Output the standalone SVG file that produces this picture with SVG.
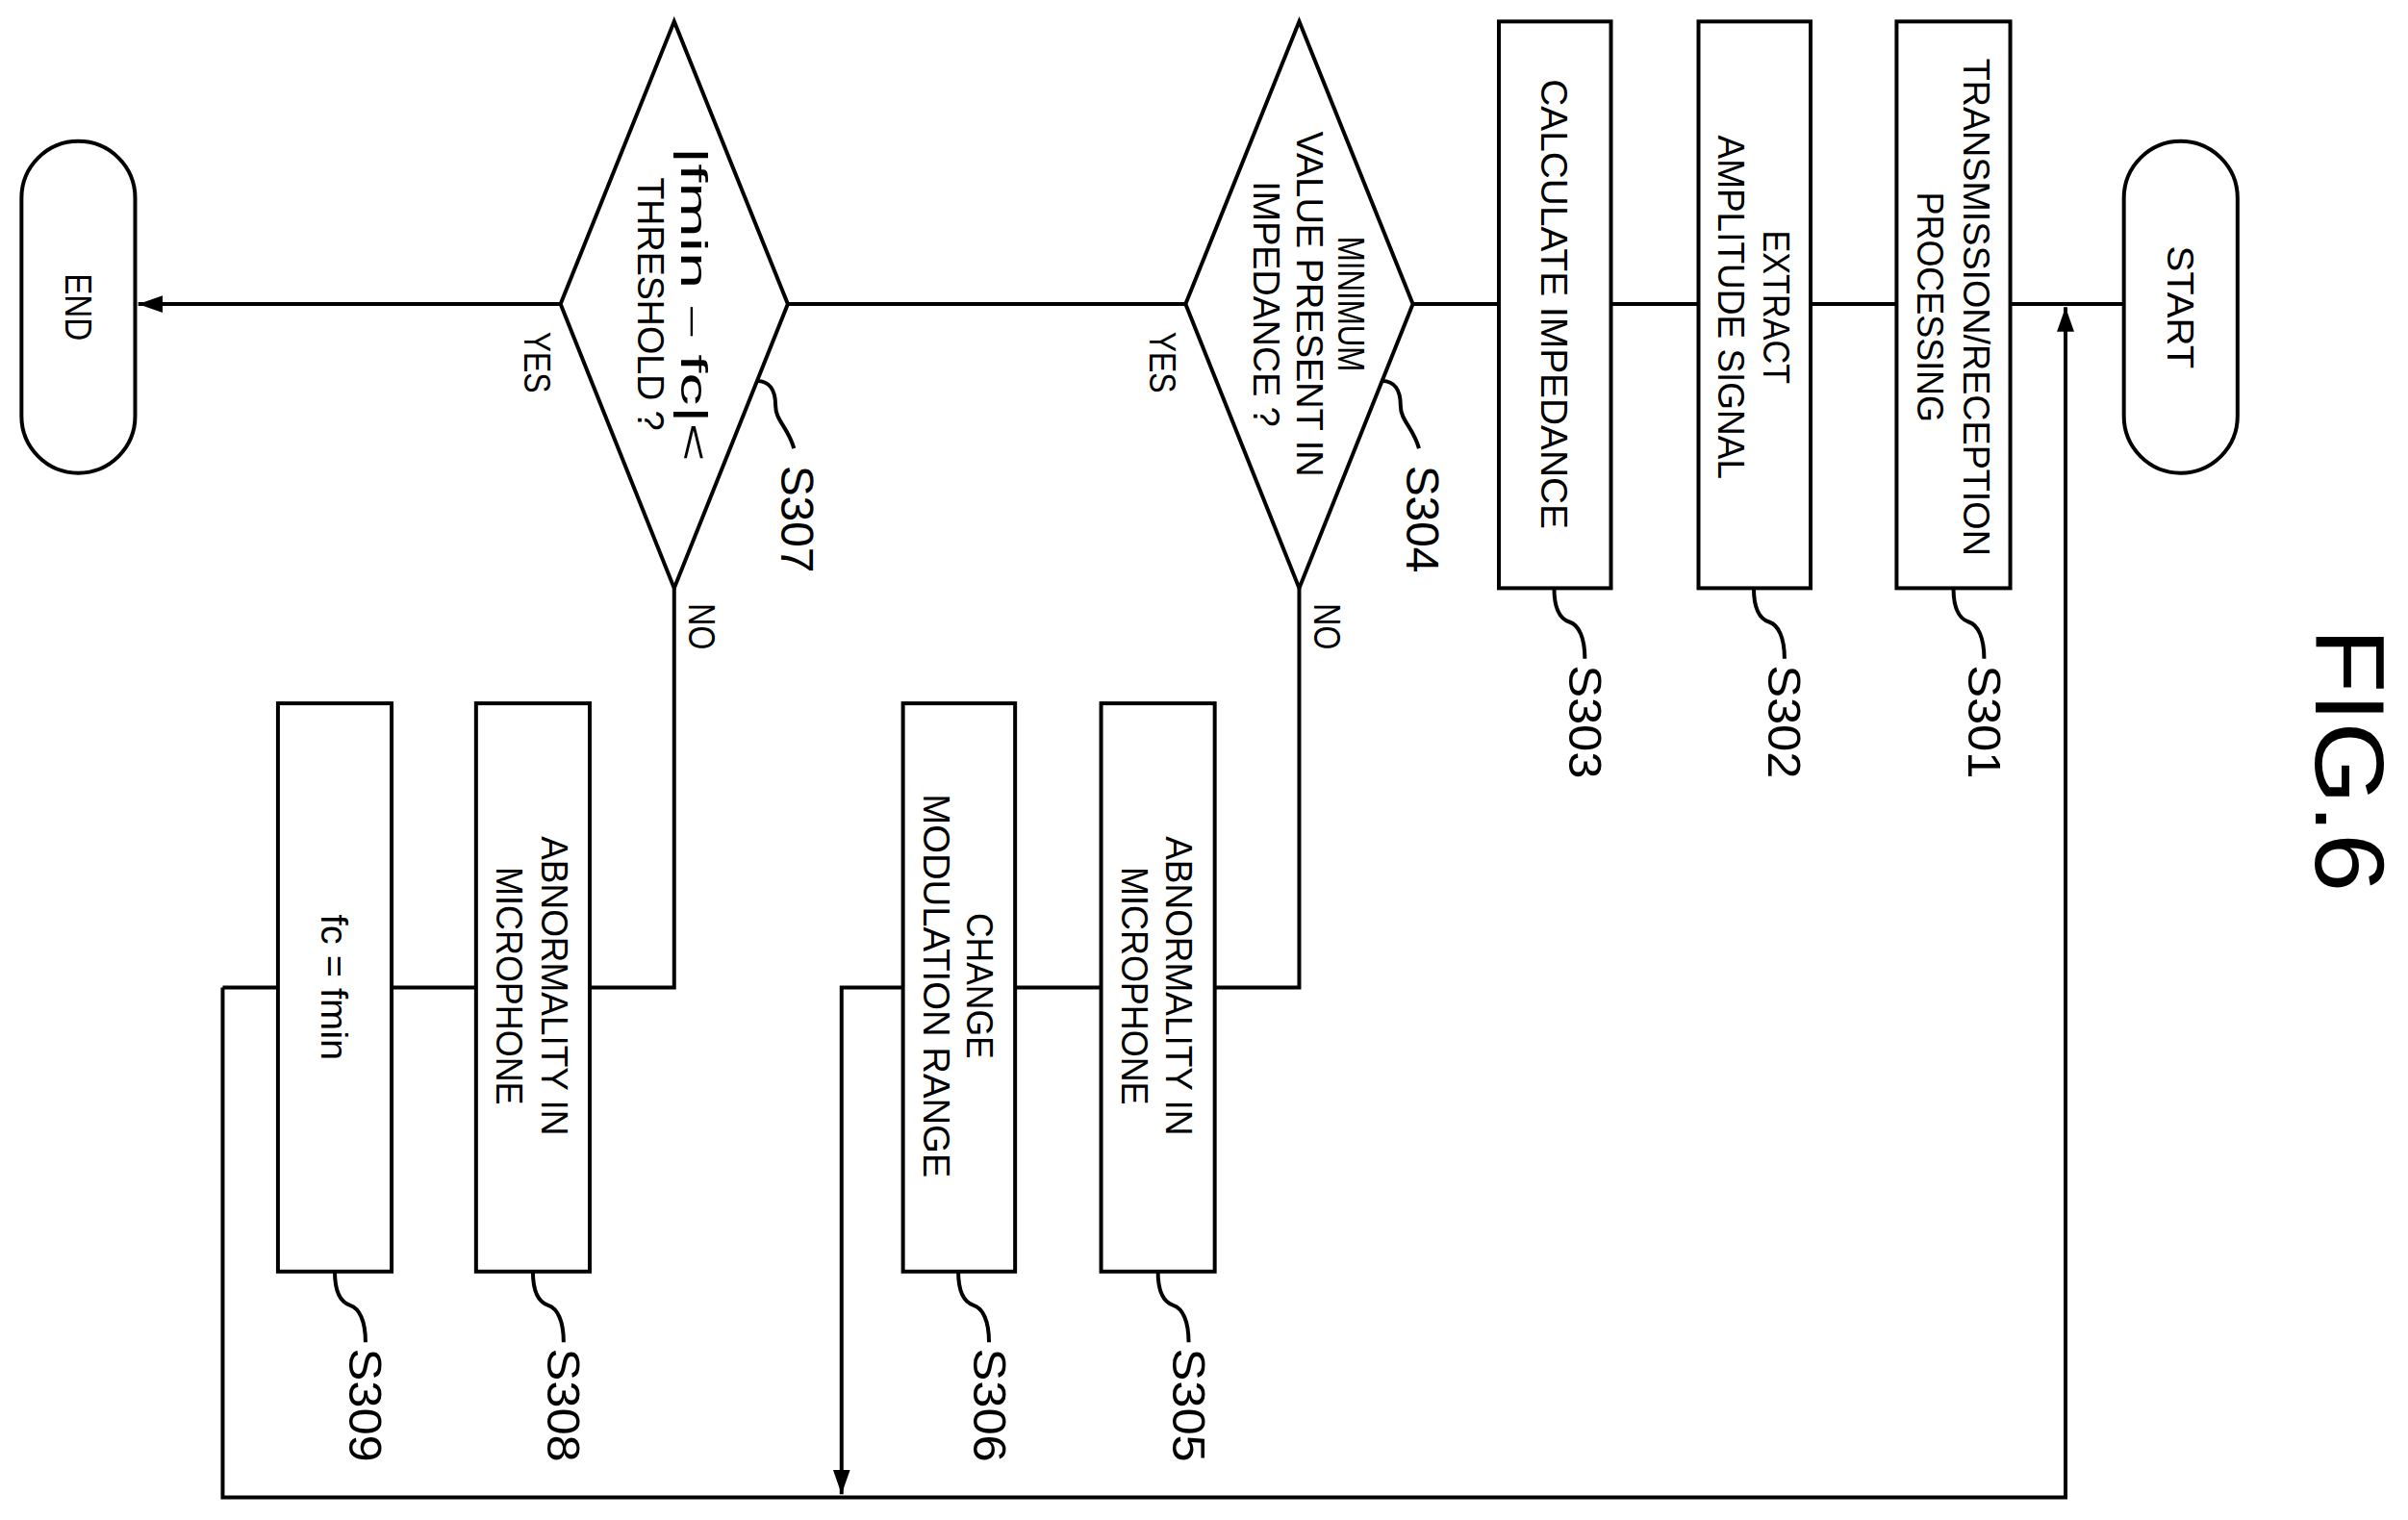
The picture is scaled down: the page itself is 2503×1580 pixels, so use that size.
<svg xmlns="http://www.w3.org/2000/svg" width="2503" height="1580" viewBox="0 0 2503 1580">
<style>
.s{fill:#fff;stroke:#000;stroke-width:2.5}
.l{fill:none;stroke:#000;stroke-width:2.5}
.t{font-family:"Liberation Sans",Arial,sans-serif;font-size:24px;fill:#000}
.lb{font-family:"Liberation Sans",Arial,sans-serif;font-size:30px;fill:#000}
</style>
<defs>
<marker id="a" viewBox="0 0 10 10" refX="10" refY="5" markerWidth="9" markerHeight="9" markerUnits="userSpaceOnUse" orient="auto"><path d="M0,0L10,5L0,10z" fill="#000"/></marker>
<marker id="b" viewBox="0 0 10 10" refX="10" refY="5" markerWidth="16" markerHeight="16" markerUnits="userSpaceOnUse" orient="auto"><path d="M0,1.5L10,5L0,8.5z" fill="#000"/></marker>
</defs>
<rect width="2503" height="1580" fill="#fff"/>
<g transform="scale(1.5963)">
<g id="connectors">
<path class="l" d="M1383,198H90" marker-end="url(#b)"/>
<path class="l" d="M145,643V975H1345V200" marker-end="url(#b)"/>
<path class="l" d="M846,383V643H548V973" marker-end="url(#b)"/>
<path class="l" d="M439,383V643H145"/>
</g>
<g id="start"><rect class="s" x="1383" y="92" width="74" height="216" rx="37"/><text class="t" transform="translate(1420,200) rotate(90)" text-anchor="middle" dominant-baseline="central" textLength="80" lengthAdjust="spacingAndGlyphs">START</text></g>
<g id="s301"><rect class="s" x="1235" y="14" width="74" height="369"/>
<text class="t" transform="translate(1287,200) rotate(90)" text-anchor="middle" dominant-baseline="central" textLength="324" lengthAdjust="spacingAndGlyphs">TRANSMISSION/RECEPTION</text>
<text class="t" transform="translate(1257,200) rotate(90)" text-anchor="middle" dominant-baseline="central" textLength="150" lengthAdjust="spacingAndGlyphs">PROCESSING</text>
<path class="l" d="M1272,383c0,14 4,20 10,22s10,10 10,24"/><text class="lb" transform="translate(1292,470) rotate(90)" text-anchor="middle" dominant-baseline="central" textLength="74" lengthAdjust="spacingAndGlyphs">S301</text></g>
<g id="s302"><rect class="s" x="1106" y="14" width="73" height="369"/>
<text class="t" transform="translate(1157,200) rotate(90)" text-anchor="middle" dominant-baseline="central" textLength="100" lengthAdjust="spacingAndGlyphs">EXTRACT</text>
<text class="t" transform="translate(1127,200) rotate(90)" text-anchor="middle" dominant-baseline="central" textLength="224" lengthAdjust="spacingAndGlyphs">AMPLITUDE SIGNAL</text>
<path class="l" d="M1142,383c0,14 4,20 10,22s10,10 10,24"/><text class="lb" transform="translate(1162,470) rotate(90)" text-anchor="middle" dominant-baseline="central" textLength="74" lengthAdjust="spacingAndGlyphs">S302</text></g>
<g id="s303"><rect class="s" x="976" y="14" width="73" height="369"/>
<text class="t" transform="translate(1012,198) rotate(90)" text-anchor="middle" dominant-baseline="central" textLength="293" lengthAdjust="spacingAndGlyphs">CALCULATE IMPEDANCE</text>
<path class="l" d="M1012,383c0,14 4,20 10,22s10,10 10,24"/><text class="lb" transform="translate(1032,470) rotate(90)" text-anchor="middle" dominant-baseline="central" textLength="74" lengthAdjust="spacingAndGlyphs">S303</text></g>
<g id="s304"><path class="s" d="M846,14L920,198L846,383L772,198z"/>
<text class="t" transform="translate(880,198) rotate(90)" text-anchor="middle" dominant-baseline="central" textLength="88" lengthAdjust="spacingAndGlyphs">MINIMUM</text>
<text class="t" transform="translate(853,198) rotate(90)" text-anchor="middle" dominant-baseline="central" textLength="225" lengthAdjust="spacingAndGlyphs">VALUE PRESENT IN</text>
<text class="t" transform="translate(825,198) rotate(90)" text-anchor="middle" dominant-baseline="central" textLength="160" lengthAdjust="spacingAndGlyphs">IMPEDANCE ?</text>
<path class="l" d="M900,248c8,0 12,6 12,16s8,14 12,28"/><text class="lb" transform="translate(926,338) rotate(90)" text-anchor="middle" dominant-baseline="central" textLength="70" lengthAdjust="spacingAndGlyphs">S304</text>
<text class="t" transform="translate(757,236) rotate(90)" text-anchor="middle" dominant-baseline="central" textLength="40" lengthAdjust="spacingAndGlyphs">YES</text>
<text class="t" transform="translate(864,408) rotate(90)" text-anchor="middle" dominant-baseline="central" textLength="30" lengthAdjust="spacingAndGlyphs">NO</text></g>
<g id="s305"><rect class="s" x="717" y="458" width="74" height="370"/>
<text class="t" transform="translate(768,642) rotate(90)" text-anchor="middle" dominant-baseline="central" textLength="195" lengthAdjust="spacingAndGlyphs">ABNORMALITY IN</text>
<text class="t" transform="translate(739,642) rotate(90)" text-anchor="middle" dominant-baseline="central" textLength="155" lengthAdjust="spacingAndGlyphs">MICROPHONE</text>
<path class="l" d="M754,828c0,14 4,20 10,22s10,10 10,24"/><text class="lb" transform="translate(774,915) rotate(90)" text-anchor="middle" dominant-baseline="central" textLength="74" lengthAdjust="spacingAndGlyphs">S305</text></g>
<g id="s306"><rect class="s" x="588" y="458" width="73" height="370"/>
<text class="t" transform="translate(638,642) rotate(90)" text-anchor="middle" dominant-baseline="central" textLength="95" lengthAdjust="spacingAndGlyphs">CHANGE</text>
<text class="t" transform="translate(610,642) rotate(90)" text-anchor="middle" dominant-baseline="central" textLength="250" lengthAdjust="spacingAndGlyphs">MODULATION RANGE</text>
<path class="l" d="M624,828c0,14 4,20 10,22s10,10 10,24"/><text class="lb" transform="translate(644,915) rotate(90)" text-anchor="middle" dominant-baseline="central" textLength="74" lengthAdjust="spacingAndGlyphs">S306</text></g>
<g id="s307"><path class="s" d="M439,14L513,198L439,383L365,198z"/>
<text class="t" transform="translate(452,198) rotate(90)" text-anchor="middle" dominant-baseline="central" textLength="205" lengthAdjust="spacingAndGlyphs">|fmin－fc|&lt;</text>
<text class="t" transform="translate(424,198) rotate(90)" text-anchor="middle" dominant-baseline="central" textLength="165" lengthAdjust="spacingAndGlyphs">THRESHOLD ?</text>
<path class="l" d="M493,248c8,0 12,6 12,16s8,14 12,28"/><text class="lb" transform="translate(519,338) rotate(90)" text-anchor="middle" dominant-baseline="central" textLength="70" lengthAdjust="spacingAndGlyphs">S307</text>
<text class="t" transform="translate(350,236) rotate(90)" text-anchor="middle" dominant-baseline="central" textLength="40" lengthAdjust="spacingAndGlyphs">YES</text>
<text class="t" transform="translate(457,408) rotate(90)" text-anchor="middle" dominant-baseline="central" textLength="30" lengthAdjust="spacingAndGlyphs">NO</text></g>
<g id="s308"><rect class="s" x="310" y="458" width="74" height="370"/>
<text class="t" transform="translate(361,642) rotate(90)" text-anchor="middle" dominant-baseline="central" textLength="195" lengthAdjust="spacingAndGlyphs">ABNORMALITY IN</text>
<text class="t" transform="translate(332,642) rotate(90)" text-anchor="middle" dominant-baseline="central" textLength="155" lengthAdjust="spacingAndGlyphs">MICROPHONE</text>
<path class="l" d="M347,828c0,14 4,20 10,22s10,10 10,24"/><text class="lb" transform="translate(367,915) rotate(90)" text-anchor="middle" dominant-baseline="central" textLength="74" lengthAdjust="spacingAndGlyphs">S308</text></g>
<g id="s309"><rect class="s" x="181" y="458" width="74" height="370"/>
<text class="t" transform="translate(218,643) rotate(90)" text-anchor="middle" dominant-baseline="central" textLength="95" lengthAdjust="spacingAndGlyphs">fc = fmin</text>
<path class="l" d="M218,828c0,14 4,20 10,22s10,10 10,24"/><text class="lb" transform="translate(238,915) rotate(90)" text-anchor="middle" dominant-baseline="central" textLength="74" lengthAdjust="spacingAndGlyphs">S309</text></g>
<g id="end"><rect class="s" x="14" y="92" width="74" height="216" rx="37"/><text class="t" transform="translate(51,200) rotate(90)" text-anchor="middle" dominant-baseline="central" textLength="44" lengthAdjust="spacingAndGlyphs">END</text></g>
<text transform="translate(1530,495) rotate(90)" text-anchor="middle" dominant-baseline="central" font-family="Liberation Sans,Arial,sans-serif" font-size="64" textLength="172" lengthAdjust="spacingAndGlyphs">FIG.6</text>
</g>
</svg>
